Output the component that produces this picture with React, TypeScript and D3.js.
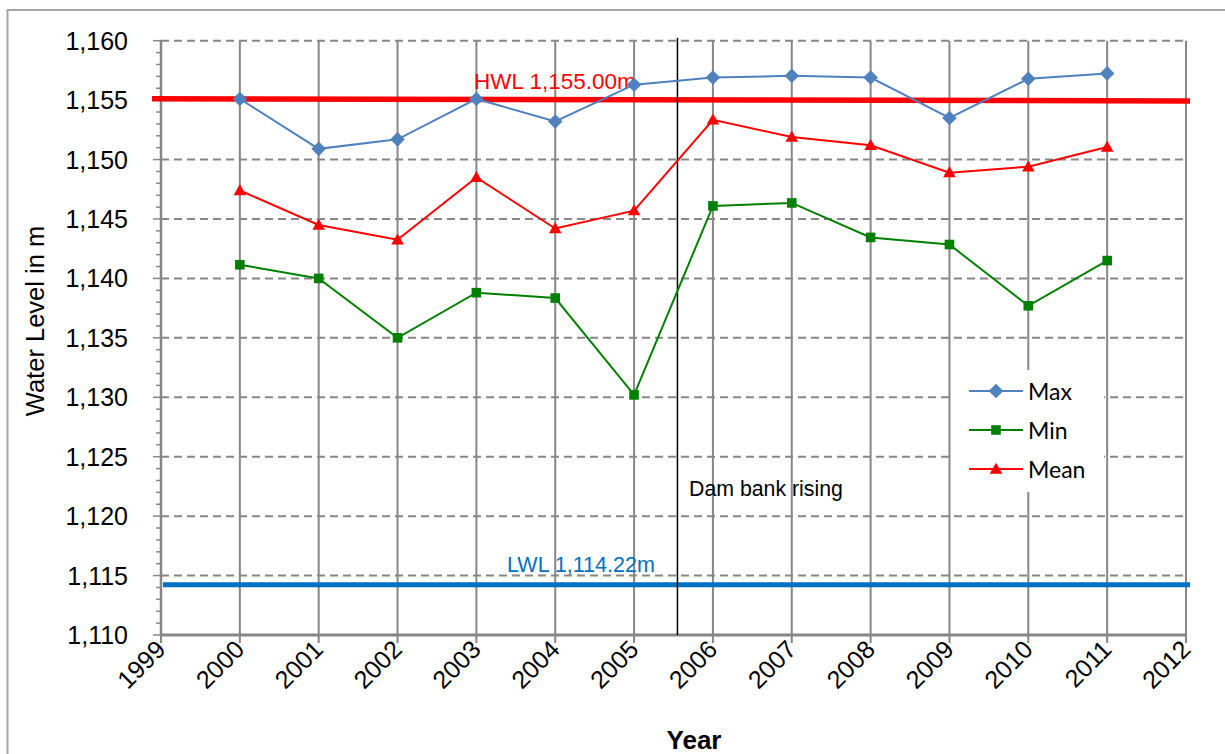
import React from "react";
import * as d3 from "d3";

const years = [2000, 2001, 2002, 2003, 2004, 2005, 2006, 2007, 2008, 2009, 2010, 2011];
const maxLevel = [1155.1, 1150.9, 1151.7, 1155.1, 1153.2, 1156.3, 1156.9, 1157.05, 1156.9, 1153.5, 1156.8, 1157.25];
const minLevel = [1141.15, 1140.0, 1135.0, 1138.8, 1138.35, 1130.2, 1146.1, 1146.35, 1143.45, 1142.85, 1137.7, 1141.5];
const meanLevel = [1147.4, 1144.5, 1143.25, 1148.5, 1144.2, 1145.7, 1153.35, 1151.9, 1151.2, 1148.9, 1149.4, 1151.05];

const xTicks = [1999, 2000, 2001, 2002, 2003, 2004, 2005, 2006, 2007, 2008, 2009, 2010, 2011, 2012];
const yTicks = [1110, 1115, 1120, 1125, 1130, 1135, 1140, 1145, 1150, 1155, 1160];
const yMinorTicks = d3.range(1110, 1161, 1);

const hwlLabel = "HWL 1,155.00m";
const hwlStart = 1155.12;
const hwlEnd = 1154.93;
const lwlLabel = "LWL 1,114.22m";
const lwlLevel = 1114.22;
const damYear = 2005.55;
const damLabel = "Dam bank rising";

const seriesNames = ["Max", "Min", "Mean"];
const seriesColors = ["#4F81BD", "#008000", "#FF0000"];

const W = 1225;
const H = 754;

export default function App() {
  const x = d3.scaleLinear().domain([1999, 2012]).range([161, 1186]);
  const y = d3.scaleLinear().domain([1110, 1160]).range([635, 40.7]);
  const fmt = d3.format(",");
  const arial = "'Liberation Sans', Arial, sans-serif";
  const grid = "#878787";

  const line = d3
    .line<number>()
    .x((_, i) => x(years[i]))
    .y((d) => y(d));

  const allSeries = [maxLevel, minLevel, meanLevel];

  const marker = (kind: number, cx: number, cy: number, key: string) => {
    const c = seriesColors[kind];
    if (kind === 0) {
      const r = 7.3;
      return (
        <path key={key} d={`M${cx},${cy - r}L${cx + r},${cy}L${cx},${cy + r}L${cx - r},${cy}Z`} fill={c} />
      );
    }
    if (kind === 1) {
      return <rect key={key} x={cx - 4.8} y={cy - 4.8} width={9.6} height={9.6} fill={c} />;
    }
    return (
      <path key={key} d={`M${cx},${cy - 6.3}L${cx + 6.3},${cy + 4.7}L${cx - 6.3},${cy + 4.7}Z`} fill={c} />
    );
  };

  return (
    <svg
      width={W}
      height={H}
      style={{ position: "absolute", left: 0, top: 0, background: "#fff" }}
      fontFamily={arial}
    >
      <rect x={7.5} y={10} width={1400} height={900} fill="#fff" stroke="#a6a6a6" strokeWidth={2} />

      {/* horizontal dashed gridlines */}
      {yTicks.filter((t) => t > 1110).map((t) => (
        <line key={"h" + t} x1={x(1999)} x2={x(2012)} y1={y(t)} y2={y(t)} stroke={grid} strokeWidth={2} strokeDasharray="8,5" />
      ))}
      {/* vertical gridlines */}
      {xTicks.filter((t) => t > 1999).map((t) => (
        <line key={"v" + t} x1={x(t)} x2={x(t)} y1={y(1160)} y2={y(1110)} stroke={grid} strokeWidth={2} />
      ))}

      {/* axes */}
      <line x1={x(1999)} x2={x(1999)} y1={y(1160)} y2={y(1110)} stroke={grid} strokeWidth={2.5} />
      <line x1={x(1999)} x2={x(2012)} y1={y(1110)} y2={y(1110)} stroke={grid} strokeWidth={3} />
      {yMinorTicks.map((t) => (
        <line key={"mt" + t} x1={x(1999) - (t % 5 === 0 ? 8 : 5)} x2={x(1999)} y1={y(t)} y2={y(t)} stroke={grid} strokeWidth={1.5} />
      ))}
      {xTicks.map((t) => (
        <line key={"xt" + t} x1={x(t)} x2={x(t)} y1={y(1110)} y2={y(1110) + 8} stroke={grid} strokeWidth={2} />
      ))}

      {/* y tick labels */}
      {yTicks.map((t) => (
        <text key={"yl" + t} x={128} y={y(t) + 9} textAnchor="end" fontSize={25} fill="#000">
          {fmt(t)}
        </text>
      ))}
      {/* x tick labels */}
      {xTicks.map((t) => (
        <text
          key={"xl" + t}
          x={0}
          y={0}
          textAnchor="end"
          fontSize={25}
          fill="#000"
          transform={`translate(${x(t) + 6},${y(1110) + 16}) rotate(-45)`}
        >
          {t}
        </text>
      ))}

      {/* axis titles */}
      <text transform={`translate(44,321) rotate(-90)`} textAnchor="middle" fontSize={25.5} fill="#000">
        Water Level in m
      </text>
      <text x={694} y={749} textAnchor="middle" fontSize={26} fontWeight="bold" fill="#000">
        Year
      </text>

      {/* reference levels */}
      <line x1={152} x2={1190} y1={y(hwlStart)} y2={y(hwlEnd)} stroke="#FF0000" strokeWidth={5.5} />
      <text x={474} y={89} fontSize={22.5} fill="#FF0000">
        {hwlLabel}
      </text>
      <line x1={163} x2={1190} y1={y(lwlLevel)} y2={y(lwlLevel)} stroke="#0070C0" strokeWidth={5} />
      <text x={507} y={572} fontSize={21.5} fill="#0070C0">
        {lwlLabel}
      </text>

      {/* dam line */}
      <line x1={x(damYear)} x2={x(damYear)} y1={y(1160) - 3} y2={y(1110)} stroke="#000" strokeWidth={1.5} />
      <text x={689} y={496} fontSize={21.3} fill="#000">
        {damLabel}
      </text>

      {/* series */}
      {allSeries.map((s, k) => (
        <g key={"s" + k}>
          <path d={line(s) || ""} fill="none" stroke={seriesColors[k]} strokeWidth={2} />
          {s.map((v, i) => marker(k, x(years[i]), y(v), `m${k}-${i}`))}
        </g>
      ))}

      {/* legend */}
      <rect x={951} y={370} width={153} height={122} fill="#fff" />
      {seriesNames.map((n, k) => {
        const ly = 391 + k * 39;
        return (
          <g key={"lg" + k}>
            <line x1={969} x2={1023} y1={ly} y2={ly} stroke={seriesColors[k]} strokeWidth={2} />
            {marker(k, 996, ly, "lm" + k)}
            <text x={1028} y={ly + 8.5} fontSize={23} fontFamily="Lato, 'Open Sans', sans-serif" fill="#000">
              {n}
            </text>
          </g>
        );
      })}
    </svg>
  );
}
